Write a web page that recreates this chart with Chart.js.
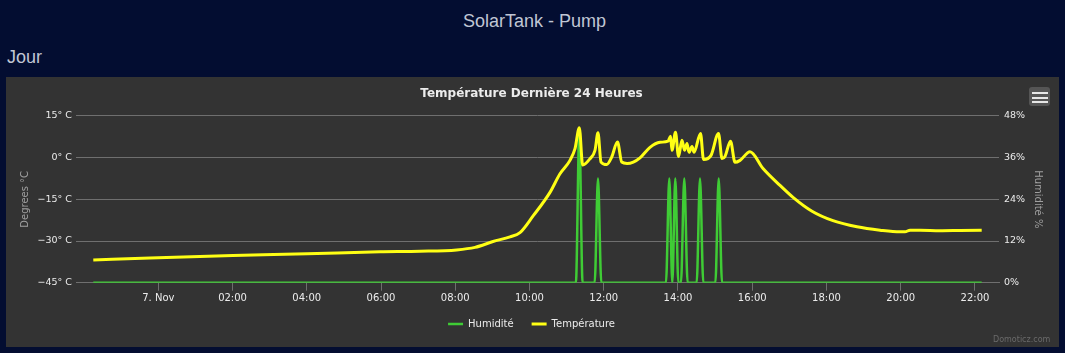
<!DOCTYPE html>
<html><head><meta charset="utf-8">
<script src="https://cdn.jsdelivr.net/npm/chart.js@4.4.1/dist/chart.umd.min.js"></script>
<style>
html,body{margin:0;padding:0;background:#030d31;width:1065px;height:353px;overflow:hidden;}
#pageTitle{position:absolute;left:2px;top:12px;width:1065px;text-align:center;font-family:"Liberation Sans",Arial,sans-serif;font-size:18px;line-height:18px;color:#c0c6d4;}
#jour{position:absolute;left:7px;top:48px;font-family:"Liberation Sans",Arial,sans-serif;font-size:18px;line-height:18px;color:#c0c6d4;}
#box{position:absolute;left:6px;top:77px;width:1053px;height:270px;background:#333333;}
#box canvas{position:absolute;left:0;top:0;}
#menu{position:absolute;left:1023px;top:10px;width:21px;height:19px;background:#555555;border-radius:3px;}
#menu span{position:absolute;left:3px;width:16px;height:2px;background:#e6e6e6;}
#credits{position:absolute;left:987px;top:258px;font-family:"DejaVu Sans",sans-serif;font-size:8px;line-height:10px;color:#6a6a6a;}
</style>
</head><body>
<div id="pageTitle">SolarTank - Pump</div>
<div id="jour">Jour</div>
<div id="box">
  <canvas id="c" width="1053" height="270"></canvas>
  <div id="menu"><span style="top:5px"></span><span style="top:9.5px"></span><span style="top:14px"></span></div>
  <div id="credits">Domoticz.com</div>
</div>
<script>
// ---- data (hours relative to 7 Nov 00:00) ----
const chartTitle = 'Température Dernière 24 Heures';
const seriesNames = ['Humidité', 'Température'];
const xTickHours = [0, 2, 4, 6, 8, 10, 12, 14, 16, 18, 20, 22];
const xTickLabels = ['7. Nov', '02:00', '04:00', '06:00', '08:00', '10:00', '12:00', '14:00', '16:00', '18:00', '20:00', '22:00'];

const tempHours = [-1.751, -0.224, 2.012, 4.006, 5.973, 7.050, 8.039, 8.532, 9.017, 9.475, 9.744, 10.102, 10.552, 10.822, 11.091, 11.226, 11.342, 11.433, 11.630, 11.764, 11.845, 11.926, 12.080, 12.214, 12.371, 12.484, 12.627, 12.796, 12.977, 13.246, 13.516, 13.731, 13.799, 13.839, 13.933, 14.014, 14.108, 14.176, 14.243, 14.297, 14.378, 14.432, 14.607, 14.688, 14.890, 15.092, 15.186, 15.267, 15.415, 15.536, 15.671, 15.940, 16.291, 16.749, 17.099, 17.611, 18.176, 18.823, 19.443, 19.981, 20.116, 20.251, 20.520, 21.059, 21.598, 22.182];
const tempValues = [-36.8, -36.1, -35.2, -34.6, -33.9, -33.7, -33.2, -32.3, -30.2, -28.5, -27.0, -20.9, -12.5, -5.8, -1.0, 3.2, 10.7, -2.7, -0.4, 2.6, 8.9, -1.6, -2.5, 0.2, 5.6, -1.6, -2.1, -1.6, -0.1, 3.7, 5.5, 5.9, 7.7, 2.6, 9.1, 0.4, 6.2, 2.6, 5.1, 1.9, 4.0, 1.9, 8.7, -0.7, 0.8, 8.7, -0.3, 0.4, 5.9, -1.7, -1.0, 2.1, -3.9, -10.0, -14.3, -19.3, -22.7, -24.9, -26.1, -26.7, -26.7, -26.1, -26.1, -26.3, -26.2, -26.1];

const humHours = [-1.751, 11.25, 11.342, 11.43, 11.755, 11.845, 11.935, 13.676, 13.766, 13.847, 13.928, 14.01, 14.08, 14.17, 14.26, 14.503, 14.593, 14.683, 15.007, 15.097, 15.187, 22.182];
const humValues = [0, 0, 44, 0, 0, 30, 0, 0, 30, 0, 30, 0, 0, 30, 0, 0, 30, 0, 0, 30, 0, 0];

const tempTicks = [-45, -30, -15, 0, 15];
const humTicks = [0, 12, 24, 36, 48];

const xMin = -2.217, xMax = 22.648;

const toPts = (xs, ys) => xs.map((x, i) => ({x: x, y: ys[i]}));

Chart.defaults.font.family = '"DejaVu Sans", sans-serif';
const gridColor = '#6f6f6f';
const labelColor = '#ececec';

new Chart(document.getElementById('c'), {
  type: 'line',
  data: {
    datasets: [
      { label: seriesNames[0], data: toPts(humHours, humValues), yAxisID: 'y1', borderColor: '#3fcc35', backgroundColor: '#3fcc35', borderWidth: 2.5, pointRadius: 0, cubicInterpolationMode: 'monotone', order: 1 },
      { label: seriesNames[1], data: toPts(tempHours, tempValues), yAxisID: 'y', borderColor: '#ffff14', backgroundColor: '#ffff14', borderWidth: 3, pointRadius: 0, cubicInterpolationMode: 'monotone', order: 0 }
    ]
  },
  options: {
    responsive: false,
    animation: false,
    devicePixelRatio: 1,
    layout: { padding: { left: 9, right: 11, top: 0, bottom: 8 } },
    plugins: {
      title: { display: true, text: chartTitle, color: labelColor, font: { size: 12, weight: 'bold' }, padding: { top: 10, bottom: 14.5 } },
      legend: {
        position: 'bottom',
        labels: {
          usePointStyle: true, pointStyle: 'line', pointStyleWidth: 15,
          color: labelColor, font: { size: 10 }, padding: 18,
          sort: (a, b) => a.datasetIndex - b.datasetIndex
        }
      },
      tooltip: { enabled: false }
    },
    scales: {
      x: {
        type: 'linear', min: xMin, max: xMax,
        afterBuildTicks: (ax) => { ax.ticks = xTickHours.map(v => ({ value: v })); },
        afterFit: (ax) => { ax.height = 18.3; },
        ticks: { autoSkip: false, maxRotation: 0, color: labelColor, font: { size: 10 }, padding: 2,
          callback: (v, i) => xTickLabels[i] },
        grid: { drawOnChartArea: false, drawTicks: true, tickLength: 8, color: gridColor },
        border: { display: true, color: gridColor }
      },
      y: {
        position: 'left', min: tempTicks[0], max: tempTicks[tempTicks.length - 1],
        afterBuildTicks: (ax) => { ax.ticks = tempTicks.map(v => ({ value: v })); },
        afterFit: (ax) => { ax.width = 61; },
        ticks: { color: labelColor, font: { size: 9.5 }, padding: 4,
          callback: (v) => (v < 0 ? '\u2212' + Math.abs(v) : v) + '° C' },
        grid: { color: gridColor, drawTicks: false },
        border: { display: false },
        title: { display: true, text: 'Degrees °C', color: '#a0a0a0', font: { size: 10 }, padding: { top: 4, bottom: 4 } }
      },
      y1: {
        position: 'right', min: humTicks[0], max: humTicks[humTicks.length - 1],
        afterBuildTicks: (ax) => { ax.ticks = humTicks.map(v => ({ value: v })); },
        afterFit: (ax) => { ax.width = 49; },
        ticks: { color: labelColor, font: { size: 9.5 }, padding: 5, callback: (v) => v + '%' },
        grid: { drawOnChartArea: false, drawTicks: false },
        border: { display: false },
        title: { display: true, text: 'Humidité %', color: '#a0a0a0', font: { size: 10 }, padding: { top: 4, bottom: 4 } }
      }
    }
  }
});
</script>
</body></html>
